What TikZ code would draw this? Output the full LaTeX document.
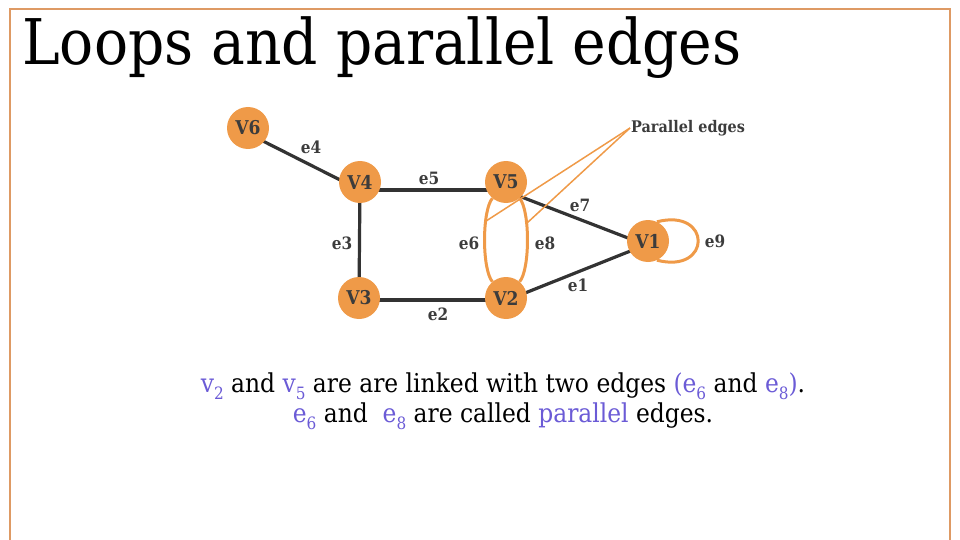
\documentclass[tikz,border=0pt]{standalone}
\usepackage{fontspec}
\setmainfont{DejaVu Serif Condensed}
\usetikzlibrary{backgrounds,calc}
\definecolor{nodeorange}{HTML}{EF9A48}
\definecolor{edgegray}{HTML}{333333}
\definecolor{labelgray}{HTML}{3C3C3C}
\definecolor{accent}{HTML}{6B5BD6}
\definecolor{frameorange}{HTML}{DE9A64}
\newcommand\hl[1]{\textcolor{accent}{#1}}
\newcommand\lowidx[1]{\raisebox{-0.28em}{\fontsize{17}{17}\selectfont #1}}
\begin{document}
\begin{tikzpicture}[x=1pt,y=1pt,
  vertex/.style={circle,fill=nodeorange,minimum size=42pt,inner sep=0pt,
    text=labelgray,font=\bfseries\fontsize{19}{19}\selectfont},
  plainedge/.style={line width=3.2pt,draw=edgegray},
  paredge/.style={line width=3pt,draw=nodeorange},
  pointer/.style={line width=1.5pt,draw=nodeorange},
  elabel/.style={text=labelgray,inner sep=0pt,font=\bfseries\fontsize{17}{17}\selectfont},
]
\useasboundingbox (0,0) rectangle (960,-540);

% slide frame
\draw[frameorange,line width=2pt] (10,-545) -- (10,-9) -- (950,-9) -- (950,-545);

% title
\node[anchor=base west,inner sep=0pt,font=\fontsize{63}{63}\selectfont] (title) at (22,-65) {Loops and parallel edges};

% vertices
\node[vertex] (V6) at (248,-128) {V6};
\node[vertex] (V4) at (360,-182) {V4};
\node[vertex] (V5) at (506,-182) {V5};
\node[vertex] (V3) at (359,-298) {V3};
\node[vertex] (V2) at (506,-298) {V2};
\node[vertex] (V1) at (648,-241) {V1};

% edges (the straight ones meet the vertices a little below their centres)
\begin{scope}[on background layer]
  \draw[plainedge] ($(V6)+(0,-5.5)$) -- ($(V4)+(0,-8)$);
  \draw[plainedge] ($(V4)+(0,-8)$) -- ($(V5)+(0,-8)$);
  \draw[plainedge] (V4) -- (V3);
  \draw[plainedge] ($(V3)+(0,-2)$) -- ($(V2)+(0,-2)$);
  \draw[plainedge] ($(V2)+(0,-2.6)$) -- ($(V1)+(0,-3)$);
  \draw[plainedge] ($(V5)+(0,-9)$) -- ($(V1)+(0,-4.7)$);
  \draw[paredge] (V5) to[out=230,in=130,looseness=0.5] coordinate[pos=0.32] (p6) (V2);
  \draw[paredge] (V5) to[out=310,in=50,looseness=0.5] coordinate[pos=0.34] (p8) (V2);
  \draw[paredge] (V1.65) .. controls +(55,14) and +(55,-14) .. (V1.-65);
\end{scope}

% edge labels
\node[elabel] (e4) at (311,-147) {e4};
\node[elabel] (e5) at (429,-178) {e5};
\node[elabel] (e3) at (342,-243) {e3};
\node[elabel] (e6) at (469,-243) {e6};
\node[elabel] (e8) at (545,-243) {e8};
\node[elabel] (e7) at (580,-205) {e7};
\node[elabel] (e1) at (578,-285) {e1};
\node[elabel] (e2) at (438,-314) {e2};
\node[elabel] (e9) at (715,-241) {e9};

% callout for the parallel edges
\node[anchor=west,inner sep=1pt,text=labelgray,font=\bfseries\fontsize{16}{16}\selectfont] (pl) at (630,-128) {Parallel edges};
\draw[pointer] (pl.west) -- (p6);
\draw[pointer] (pl.west) -- (p8);

% explanation
\node[anchor=base,inner sep=0pt,font=\fontsize{26}{26}\selectfont] (line1) at (503,-392)
  {\hl{v\lowidx{2}} and \hl{v\lowidx{5}} are are linked with two edges \hl{(e\lowidx{6}} and \hl{e\lowidx{8})}.};
\node[anchor=base,inner sep=0pt,font=\fontsize{26}{26}\selectfont] (line2) at (503,-422)
  {\hl{e\lowidx{6}} and\ \ \hl{e\lowidx{8}} are called \hl{parallel} edges.};
\end{tikzpicture}
\end{document}
